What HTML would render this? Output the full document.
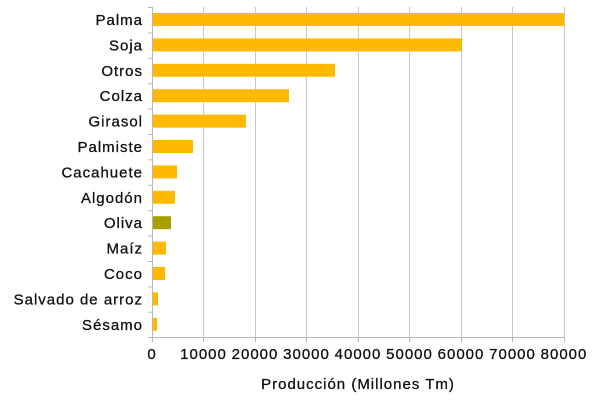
<!DOCTYPE html>
<html><head><meta charset="utf-8"><style>body{margin:0;background:#fff}svg{display:block}text{font-family:"Liberation Sans",sans-serif;font-size:15px;fill:#111;letter-spacing:1px;stroke:#111;stroke-width:0.3px}</style></head><body>
<svg width="600" height="400" xmlns="http://www.w3.org/2000/svg">
<g stroke="#c8c8c8" stroke-width="1">
<line x1="203.5" y1="7" x2="203.5" y2="338"/><line x1="255.5" y1="7" x2="255.5" y2="338"/><line x1="306.5" y1="7" x2="306.5" y2="338"/><line x1="358.5" y1="7" x2="358.5" y2="338"/><line x1="409.5" y1="7" x2="409.5" y2="338"/><line x1="461.5" y1="7" x2="461.5" y2="338"/><line x1="512.5" y1="7" x2="512.5" y2="338"/><line x1="564.5" y1="7" x2="564.5" y2="338"/>
</g>
<g fill="#FFB900">
<rect x="152" y="13" width="412" height="13"/>
<rect x="152" y="38.4" width="310" height="13"/>
<rect x="152" y="63.8" width="183" height="13"/>
<rect x="152" y="89.2" width="137" height="13"/>
<rect x="152" y="114.6" width="94" height="13"/>
<rect x="152" y="140" width="41" height="13"/>
<rect x="152" y="165.4" width="25" height="13"/>
<rect x="152" y="190.8" width="23" height="13"/>
<rect x="152" y="216.2" width="19" height="13" fill="#A8A000"/>
<rect x="152" y="241.6" width="14" height="13"/>
<rect x="152" y="267" width="13" height="13"/>
<rect x="152" y="292.4" width="6" height="13"/>
<rect x="152" y="317.8" width="5" height="13"/>
</g>
<g stroke="#b8b8b8" stroke-width="1">
<line x1="152.5" y1="7" x2="152.5" y2="338"/>
<line x1="148" y1="337.5" x2="565" y2="337.5"/>
<path d="M148 7.5h4M148 32.9h4M148 58.3h4M148 83.7h4M148 109.1h4M148 134.5h4M148 159.9h4M148 185.3h4M148 210.7h4M148 236.1h4M148 261.5h4M148 286.9h4M148 312.3h4"/>
<path d="M152.5 338v4M203.5 338v4M255.5 338v4M306.5 338v4M358.5 338v4M409.5 338v4M461.5 338v4M512.5 338v4M564.5 338v4"/>
</g>
<g text-anchor="end">
<text x="143" y="25">Palma</text><text x="143" y="50.4">Soja</text><text x="143" y="75.8">Otros</text><text x="143" y="101.2">Colza</text><text x="143" y="126.6">Girasol</text><text x="143" y="152">Palmiste</text><text x="143" y="177.4">Cacahuete</text><text x="143" y="202.8">Algodón</text><text x="143" y="228.2">Oliva</text><text x="143" y="253.6">Maíz</text><text x="143" y="279">Coco</text><text x="143" y="304.4">Salvado de arroz</text><text x="143" y="329.8">Sésamo</text>
</g>
<g text-anchor="middle">
<text x="152" y="359">0</text><text x="203.5" y="359">10000</text><text x="255" y="359">20000</text><text x="306.5" y="359">30000</text><text x="358" y="359">40000</text><text x="409.5" y="359">50000</text><text x="461" y="359">60000</text><text x="512.5" y="359">70000</text><text x="564" y="359">80000</text>
<text x="358" y="389">Producción (Millones Tm)</text>
</g>
</svg>
</body></html>
